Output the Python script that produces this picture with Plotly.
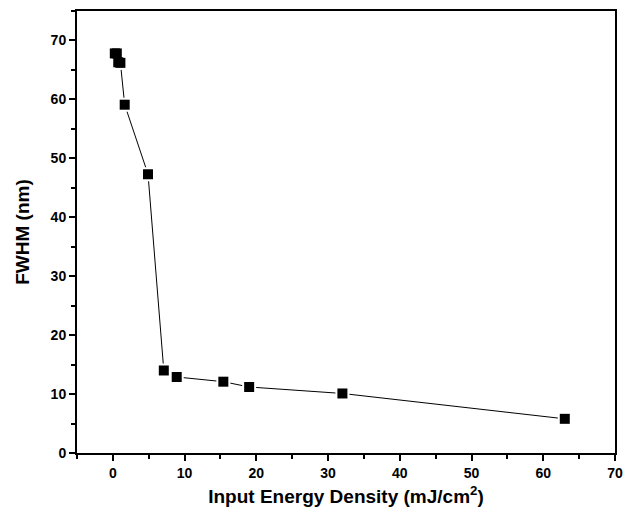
import plotly.graph_objects as go

energy = [0.27, 0.55, 0.75, 1.05, 1.65, 4.9, 7.1, 8.9, 15.4, 19.0, 32.0, 63.0]
fwhm = [67.8, 67.8, 66.3, 66.2, 59.1, 47.3, 14.0, 12.9, 12.1, 11.2, 10.1, 5.8]

fig = go.Figure()
fig.add_trace(go.Scatter(
    x=energy, y=fwhm, mode="lines",
    line=dict(color="black", width=1), showlegend=False,
))
fig.add_trace(go.Scatter(
    x=energy, y=fwhm, mode="markers",
    marker=dict(symbol="square", size=14, color="white", line=dict(width=0)),
    showlegend=False,
))
fig.add_trace(go.Scatter(
    x=energy, y=fwhm, mode="markers",
    marker=dict(symbol="square", size=10, color="black", line=dict(width=0)),
    showlegend=False,
))

font = "Liberation Sans, Arial, sans-serif"
axis_common = dict(
    showgrid=False, zeroline=False, showline=True, linecolor="black", linewidth=2,
    mirror=True, ticks="outside", ticklen=6, tickwidth=2, tickcolor="black",
    tickfont=dict(family=font, size=14, color="black", weight="bold"),
)
fig.update_xaxes(range=[-5, 70], dtick=10, tick0=0,
                 minor=dict(ticks="outside", ticklen=4, tickwidth=2, tickcolor="black", dtick=5, tick0=0),
                 title=dict(text="Input Energy Density (mJ/cm<sup>2</sup>)",
                            font=dict(family=font, size=19, color="black", weight="bold"), standoff=10),
                 **axis_common)
fig.update_yaxes(range=[0, 75], dtick=10, tick0=0,
                 minor=dict(ticks="outside", ticklen=4, tickwidth=2, tickcolor="black", dtick=5, tick0=0),
                 title=dict(text="FWHM (nm)",
                            font=dict(family=font, size=19, color="black", weight="bold"), standoff=16),
                 **axis_common)
fig.update_layout(
    width=632, height=524,
    margin=dict(l=77, r=9, t=11, b=71),
    plot_bgcolor="white", paper_bgcolor="white",
)
fig.write_html("out.html")
